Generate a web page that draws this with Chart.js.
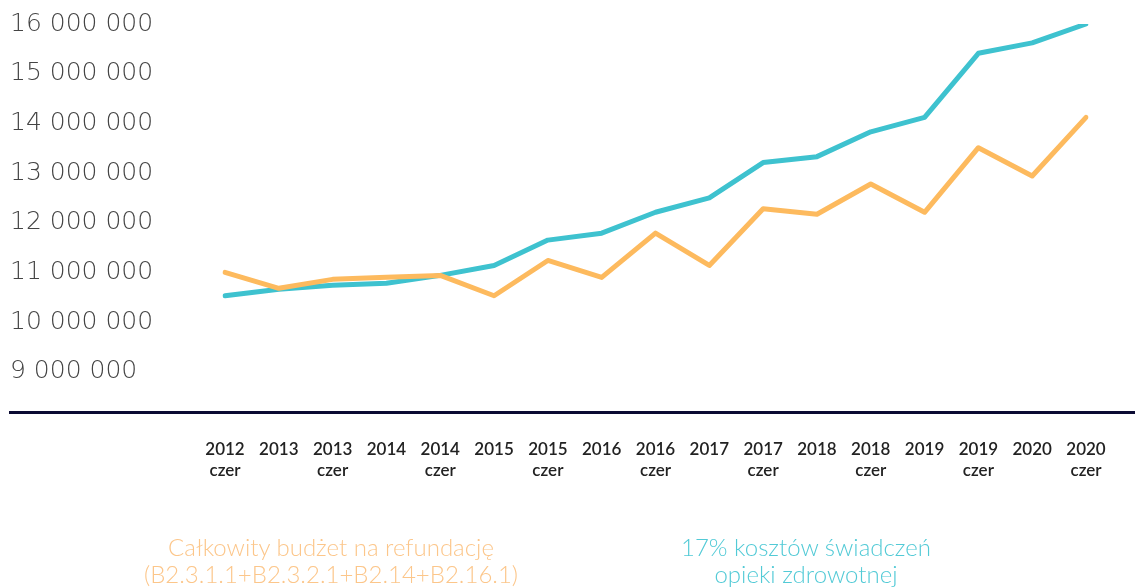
<!DOCTYPE html>
<html>
<head>
<meta charset="utf-8">
<script src="https://cdn.jsdelivr.net/npm/chart.js@4/dist/chart.umd.min.js"></script>
<style>
    html, body { margin: 0; padding: 0; background: #fff; }
    #wrap { position: relative; width: 1135px; height: 588px; }
    .legend-text {
        position: absolute;
        top: 533px;
        font-family: Lato, sans-serif;
        font-weight: 300;
        font-size: 24px;
        line-height: 27px;
        text-align: center;
        white-space: nowrap;
    }
</style>
</head>
<body>
<div id="wrap">
    <canvas id="chart" width="1135" height="588"></canvas>
    <div class="legend-text" id="legend-budget" style="left:131px; width:400px; color:#fcc68a;"></div>
    <div class="legend-text" id="legend-costs" style="left:606px; width:400px; color:#52cad6;"></div>
</div>
<script>

const categories = [
    ['2012', 'czer'], '2013', ['2013', 'czer'], '2014', ['2014', 'czer'], '2015', ['2015', 'czer'],
    '2016', ['2016', 'czer'], '2017', ['2017', 'czer'], '2018', ['2018', 'czer'], '2019', ['2019', 'czer'],
    '2020', ['2020', 'czer']
];

const budgetValues = [
    11000000, 10680000, 10860000, 10900000, 10940000, 10530000, 11240000, 10900000, 11790000,
    11140000, 12280000, 12170000, 12780000, 12210000, 13510000, 12940000, 14120000
];

const costsValues = [
    10530000, 10660000, 10740000, 10780000, 10940000, 11140000, 11650000, 11790000, 12210000,
    12500000, 13210000, 13330000, 13830000, 14120000, 15410000, 15620000, 16000000
];

const budgetLabel = ['Całkowity budżet na refundację', '(B2.3.1.1+B2.3.2.1+B2.14+B2.16.1)'];
const costsLabel = ['17% kosztów świadczeń', 'opieki zdrowotnej'];

const yTickValues = [9000000, 10000000, 11000000, 12000000, 13000000, 14000000, 15000000, 16000000];

const ORANGE = '#fdba5e';
const CYAN = '#3ec2cf';

function formatMillions(value) {
    return String(value).replace(/\B(?=(\d{3})+(?!\d))/g, ' ');
}

// thick dark baseline running across the whole width
const baselinePlugin = {
    id: 'baseline',
    beforeDatasetsDraw(chart) {
        const ctx = chart.ctx;
        const y = chart.chartArea.bottom + 1;
        ctx.save();
        ctx.strokeStyle = '#0b0b33';
        ctx.lineWidth = 3;
        ctx.beginPath();
        ctx.moveTo(9, y);
        ctx.lineTo(chart.width, y);
        ctx.stroke();
        ctx.restore();
    }
};

document.getElementById('legend-budget').innerHTML = budgetLabel.join('<br>');
document.getElementById('legend-costs').innerHTML = costsLabel.join('<br>');

let ctx = document.getElementById('chart').getContext('2d');

let myChart = new Chart(ctx, {
    type: 'line',
    data: {
        labels: categories,
        datasets: [{
            label: budgetLabel.join(' '),
            data: budgetValues,
            borderColor: ORANGE,
            backgroundColor: ORANGE,
            borderWidth: 5,
            borderCapStyle: 'round',
            borderJoinStyle: 'round',
            pointRadius: 0,
            tension: 0
        }, {
            label: costsLabel.join(' '),
            data: costsValues,
            borderColor: CYAN,
            backgroundColor: CYAN,
            borderWidth: 5,
            borderCapStyle: 'round',
            borderJoinStyle: 'round',
            pointRadius: 0,
            tension: 0
        }]
    },
    options: {
        responsive: false,
        animation: false,
        layout: {
            padding: { top: 24, left: 10, right: 49, bottom: 80 }
        },
        plugins: {
            legend: { display: false },
            tooltip: { enabled: false }
        },
        scales: {
            x: {
                grid: { display: false, drawTicks: false },
                border: { display: false },
                ticks: {
                    padding: 27,
                    autoSkip: false,
                    maxRotation: 0,
                    color: '#222222',
                    font: { family: 'Lato', size: 17, weight: '600', lineHeight: 1.25 }
                }
            },
            y: {
                min: 8200000,
                max: 16000000,
                grid: { display: false, drawTicks: false },
                border: { display: false },
                afterBuildTicks: (axis) => {
                    axis.ticks = yTickValues.map(v => ({ value: v }));
                },
                afterFit: (axis) => {
                    axis.width = 215;
                },
                ticks: {
                    crossAlign: 'far',
                    color: '#444444',
                    font: { family: '"DejaVu Sans"', size: 25, weight: '200' },
                    callback: (value) => formatMillions(value)
                }
            }
        }
    },
    plugins: [baselinePlugin]
});

</script>
</body>
</html>
